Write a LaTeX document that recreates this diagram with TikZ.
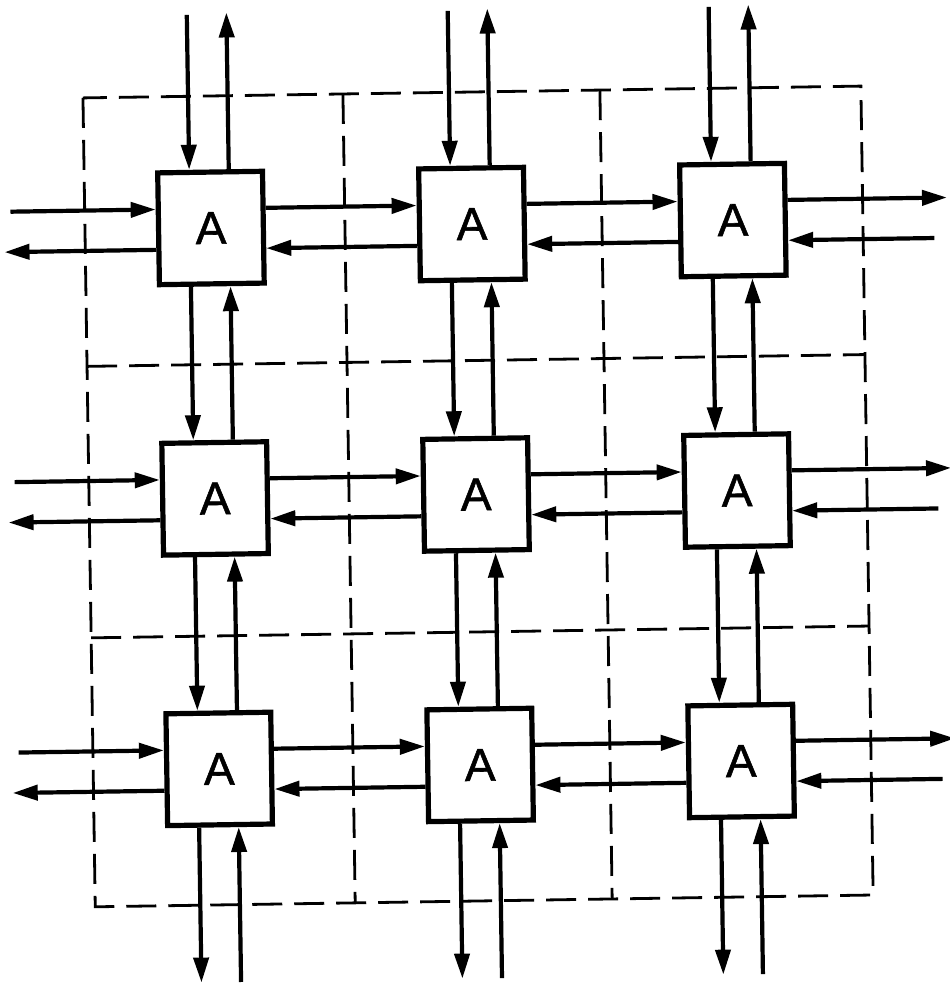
\documentclass[tikz,border=0pt]{standalone}
\usepackage{fontspec}
\setmainfont{Liberation Sans}
\newfontfamily\letterfont{Liberation Sans}[FakeBold=1.2]
\usetikzlibrary{arrows.meta,calc}
\begin{document}
\begin{tikzpicture}[x=0.5pt,y=-0.5pt,
  cellbox/.style={draw, fill=white, line width=2.6pt, inner sep=0pt,
    minimum width=52.4pt, minimum height=55.9pt,
    font=\letterfont\fontsize{23pt}{23pt}\selectfont},
  link/.style={line width=2.1pt, -{Triangle[length=12.5pt,width=7.5pt]}},
  gridline/.style={line width=1.4pt, dash pattern=on 15pt off 6pt}]
\fill[white] (0,0) rectangle (949,986);
\useasboundingbox (0,0) rectangle (949,986);
\begin{scope}[rotate around={0.87:(474.5,493)}, transform shape]
  % dashed partition
  \draw[gridline] (89,92) rectangle (867,901);
  \draw[gridline] (349,92) -- (349,901);
  \draw[gridline] (606,92) -- (606,901);
  \draw[gridline] (89,360.5) -- (867,360.5);
  \draw[gridline] (89,632) -- (867,632);
  % processing elements
  \foreach \r/\y in {1/224,2/494.5,3/765}
    \foreach \c/\x in {1/215,2/476,3/737}
      \node[cellbox] (b\r\c) at (\x,\y) {A};
  % attachment points
  \foreach \r in {1,2,3}
    \foreach \c in {1,2,3} {
      \coordinate (b\r\c-nl) at ($(b\r\c.north west)!0.31!(b\r\c.north east)$);
      \coordinate (b\r\c-nr) at ($(b\r\c.north west)!0.67!(b\r\c.north east)$);
      \coordinate (b\r\c-sl) at ($(b\r\c.south west)!0.31!(b\r\c.south east)$);
      \coordinate (b\r\c-sr) at ($(b\r\c.south west)!0.67!(b\r\c.south east)$);
      \coordinate (b\r\c-wu) at ($(b\r\c.north west)!0.335!(b\r\c.south west)$);
      \coordinate (b\r\c-wl) at ($(b\r\c.north west)!0.68!(b\r\c.south west)$);
      \coordinate (b\r\c-eu) at ($(b\r\c.north east)!0.335!(b\r\c.south east)$);
      \coordinate (b\r\c-el) at ($(b\r\c.north east)!0.68!(b\r\c.south east)$);
    }
  % horizontal links between neighbours
  \foreach \r in {1,2,3}
    \foreach \c/\d in {1/2,2/3} {
      \draw[link] (b\r\c-eu) -- (b\r\d-wu);
      \draw[link] (b\r\d-wl) -- (b\r\c-el);
    }
  % vertical links between neighbours
  \foreach \r/\s in {1/2,2/3}
    \foreach \c in {1,2,3} {
      \draw[link] (b\r\c-sl) -- (b\s\c-nl);
      \draw[link] (b\s\c-nr) -- (b\r\c-sr);
    }
  % boundary links
  \foreach \c in {1,2,3} {
    \coordinate (t\c-in) at ($(b1\c-nl)!-1.325!(b1\c-sl)$);
    \coordinate (t\c-out) at ($(b1\c-nr)!-1.34!(b1\c-sr)$);
    \coordinate (u\c-out) at ($(b3\c-sl)!-1.325!(b3\c-nl)$);
    \coordinate (u\c-in) at ($(b3\c-sr)!-1.325!(b3\c-nr)$);
    \draw[link] (t\c-in) -- (b1\c-nl);
    \draw[link] (b1\c-nr) -- (t\c-out);
    \draw[link] (b3\c-sl) -- (u\c-out);
    \draw[link] (u\c-in) -- (b3\c-sr);
  }
  \foreach \r in {1,2,3} {
    \coordinate (l\r-in) at ($(b\r1-wu)!-1.32!(b\r1-eu)$);
    \coordinate (l\r-out) at ($(b\r1-wl)!-1.38!(b\r1-el)$);
    \coordinate (r\r-out) at ($(b\r3-eu)!-1.45!(b\r3-wu)$);
    \coordinate (r\r-in) at ($(b\r3-el)!-1.33!(b\r3-wl)$);
    \draw[link] (l\r-in) -- (b\r1-wu);
    \draw[link] (b\r1-wl) -- (l\r-out);
    \draw[link] (b\r3-eu) -- (r\r-out);
    \draw[link] (r\r-in) -- (b\r3-el);
  }
\end{scope}
\end{tikzpicture}
\end{document}
